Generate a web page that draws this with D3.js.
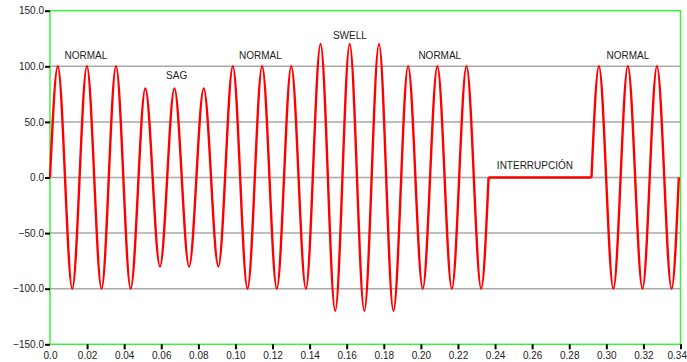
<!DOCTYPE html>
<html>
<head>
<meta charset="utf-8">
<script src="https://cdn.jsdelivr.net/npm/d3@7"></script>
<style>
    body { margin: 0; background: #fff; }
</style>
</head>
<body>
<div id="chart"></div>
<script>
// extrema of the signal (time in s, value)
let wave1Time = [0, 0.0042, 0.0120, 0.0199, 0.0278, 0.0356, 0.0435,
    0.0514, 0.0593, 0.0671, 0.0750, 0.0829, 0.0908,
    0.0986, 0.1065, 0.1144, 0.1223, 0.1301, 0.1380,
    0.1459, 0.1538, 0.1616, 0.1695, 0.1774, 0.1852,
    0.1931, 0.2010, 0.2089, 0.2167, 0.2246, 0.2325, 0.2365];
let wave1Value = [0, 100, -100, 100, -100, 100, -100,
    80, -80, 80, -80, 80, -80,
    100, -100, 100, -100, 100, -100,
    120, -120, 120, -120, 120, -120,
    100, -100, 100, -100, 100, -100, 0];

let flatTime = [0.2365, 0.2920];
let flatValue = [0, 0];

let wave2Time = [0.2920, 0.2960, 0.3038, 0.3116, 0.3195, 0.3273, 0.3352, 0.3391];
let wave2Value = [0, 100, -100, 100, -100, 100, -100, 0];

let labelText = ['NORMAL', 'SAG', 'NORMAL', 'SWELL', 'NORMAL', 'INTERRUPCIÓN', 'NORMAL'];
let labelTime = [0.0194, 0.0683, 0.1135, 0.1617, 0.2102, 0.2615, 0.3116];
let labelValue = [109.5, 91.3, 110, 128, 110, 11.2, 110];

let xTicks = [0, 0.02, 0.04, 0.06, 0.08, 0.10, 0.12, 0.14, 0.16, 0.18,
    0.20, 0.22, 0.24, 0.26, 0.28, 0.30, 0.32, 0.34];
let yTicks = [-150, -100, -50, 0, 50, 100, 150];
let gridValues = [-100, -50, 0, 50, 100];

let width = 687;
let height = 362;
let margin = { top: 10.7, right: 6.5, bottom: 17.7, left: 50 };

let svg = d3.select('#chart')
    .append('svg')
    .attr('width', width)
    .attr('height', height)
    .attr('font-family', '"Liberation Sans", Arial, sans-serif');

let x = d3.scaleLinear([0, 0.34], [margin.left, width - margin.right]);
let y = d3.scaleLinear([-150, 150], [height - margin.bottom, margin.top]);

// horizontal grid
svg.append('g')
    .attr('stroke', '#a9a9a9')
    .attr('stroke-width', 1.5)
    .selectAll('line')
    .data(gridValues)
    .join('line')
    .attr('x1', x(0))
    .attr('x2', x(0.34))
    .attr('y1', d => y(d))
    .attr('y2', d => y(d));

// green frame
svg.append('rect')
    .attr('x', x(0))
    .attr('y', y(150))
    .attr('width', x(0.34) - x(0))
    .attr('height', y(-150) - y(150))
    .attr('fill', 'none')
    .attr('stroke', '#3cf03c')
    .attr('stroke-width', 1.5);

let toPoints = (ts, vs) => ts.map((t, i) => ({ t: t, v: vs[i] }));

let wave = d3.line()
    .x(d => x(d.t))
    .y(d => y(d.v))
    .curve(d3.curveMonotoneX);

let flat = d3.line()
    .x(d => x(d.t))
    .y(d => y(d.v));

let signal = svg.append('g')
    .attr('fill', 'none')
    .attr('stroke', '#ff0000')
    .attr('stroke-width', 2.4)
    .attr('stroke-linejoin', 'round');

signal.append('path').attr('d', wave(toPoints(wave1Time, wave1Value)));
signal.append('path').attr('d', flat(toPoints(flatTime, flatValue)));
signal.append('path').attr('d', wave(toPoints(wave2Time, wave2Value)));

// axes
let xAxis = svg.append('g')
    .attr('transform', `translate(0, ${y(-150)})`)
    .call(d3.axisBottom(x)
        .tickValues(xTicks)
        .tickSize(5)
        .tickPadding(3)
        .tickFormat(d => d === 0 ? '0.0' : d3.format('.2f')(d)));

let yAxis = svg.append('g')
    .attr('transform', `translate(${x(0)}, 0)`)
    .call(d3.axisLeft(y)
        .tickValues(yTicks)
        .tickSize(5)
        .tickPadding(1)
        .tickFormat(d3.format('.1f')));

[xAxis, yAxis].forEach(a => {
    a.select('.domain').remove();
    a.selectAll('.tick line')
        .attr('stroke', '#000')
        .attr('stroke-width', 2);
    a.selectAll('.tick text')
        .attr('fill', '#222')
        .attr('font-size', 10)
        .attr('font-family', '"Liberation Sans", Arial, sans-serif');
});
xAxis.selectAll('.tick').filter(d => d === 0).select('line').remove();

// last label would run past the right edge, pull it in
xAxis.selectAll('.tick').filter(d => d === 0.34).select('text')
    .attr('text-anchor', 'end')
    .attr('x', width - x(0.34) - 0.5);

// annotations
svg.append('g')
    .attr('font-size', 10)
    .attr('fill', '#222')
    .attr('text-anchor', 'middle')
    .selectAll('text')
    .data(labelText)
    .join('text')
    .attr('x', (d, i) => x(labelTime[i]))
    .attr('y', (d, i) => y(labelValue[i]))
    .attr('dy', '0.35em')
    .text(d => d);
</script>
</body>
</html>
